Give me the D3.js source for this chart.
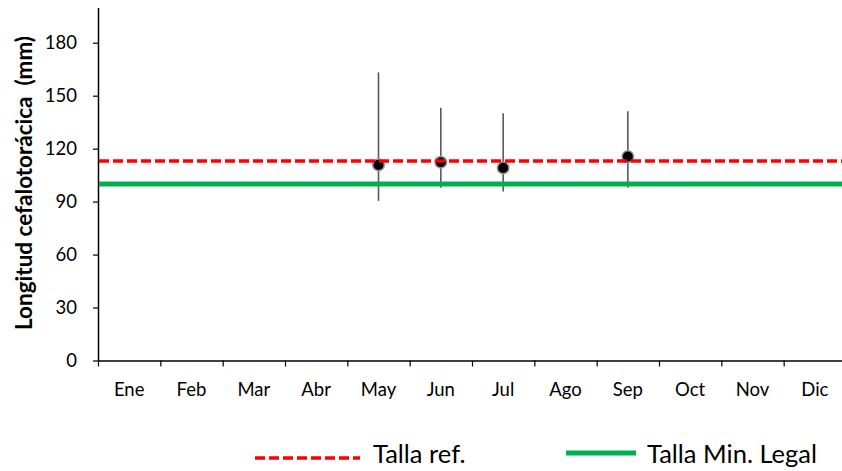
<!DOCTYPE html>
<html>
<head>
<meta charset="utf-8">
<script src="https://cdn.jsdelivr.net/npm/d3@7"></script>
<style>
  html, body { margin: 0; padding: 0; background: #fff; }
  svg { display: block; font-family: Lato, "Open Sans", sans-serif; }
</style>
</head>
<body>
<div id="chart"></div>
<script>
// ---- data ----
const months = ["Ene","Feb","Mar","Abr","May","Jun","Jul","Ago","Sep","Oct","Nov","Dic"];
const sampleMonths = ["May","Jun","Jul","Sep"];
const meanLength = [110.8, 112.3, 109.1, 115.5];
const maxLength  = [163.2, 143.2, 140.0, 141.2];
const minLength  = [90.4, 97.9, 95.7, 97.9];
const tallaRef = 113;
const tallaMinLegal = 100;
const yTicks = [0, 30, 60, 90, 120, 150, 180];
const yMax = 200;
const legendLabels = ["Talla ref.", "Talla Min. Legal"];

// ---- layout ----
const W = 842, H = 471;
const pLeft = 98, pRight = 846, pTop = 7.4, pBottom = 360.5;

const svg = d3.select("#chart").append("svg").attr("width", W).attr("height", H);

const x = d3.scaleBand().domain(months).range([pLeft, pRight]).padding(0);
const xEdge = d3.scaleLinear().domain([0, months.length]).range([pLeft, pRight]);
const y = d3.scaleLinear().domain([0, yMax]).range([pBottom, pTop]);

// y axis
const gy = svg.append("g").attr("transform", `translate(${pLeft},0)`)
  .call(d3.axisLeft(y).tickValues(yTicks).tickSize(5).tickPadding(16).tickSizeOuter(0));
gy.select(".domain").attr("stroke", "#000").attr("stroke-width", 1.5);
gy.selectAll(".tick line").attr("stroke", "#000").attr("stroke-width", 1.2);
gy.selectAll("text").attr("font-size", 18.5).attr("fill", "#000").attr("font-family", "Lato");

// x axis: boundary ticks
const gxe = svg.append("g").attr("transform", `translate(0,${pBottom})`)
  .call(d3.axisBottom(xEdge).tickValues(d3.range(months.length + 1)).tickFormat("").tickSize(6).tickSizeOuter(0));
gxe.select(".domain").attr("stroke", "#000").attr("stroke-width", 1.5);
gxe.selectAll(".tick line").attr("stroke", "#000").attr("stroke-width", 1.2);

// x axis labels
const gx = svg.append("g").attr("transform", `translate(0,${pBottom})`)
  .call(d3.axisBottom(x).tickSize(0).tickPadding(22));
gx.select(".domain").remove();
gx.selectAll("text").attr("font-size", 18.5).attr("fill", "#000").attr("font-family", "Lato");

// y label
svg.append("text")
  .attr("transform", `translate(32,${183}) rotate(-90)`)
  .attr("text-anchor", "middle")
  .attr("font-size", 22.5).attr("font-weight", "bold").attr("fill", "#000")
  .style("white-space", "pre")
  .text("Longitud cefalotorácica  (mm)");

// error bars
const pts = sampleMonths.map((m, i) => ({ m, v: meanLength[i], hi: maxLength[i], lo: minLength[i] }));
svg.append("g").selectAll("line").data(pts).join("line")
  .attr("x1", d => x(d.m) + x.bandwidth() / 2)
  .attr("x2", d => x(d.m) + x.bandwidth() / 2)
  .attr("y1", d => y(d.hi)).attr("y2", d => y(d.lo))
  .attr("stroke", "#595959").attr("stroke-width", 1.6);

// points
svg.append("g").selectAll("circle").data(pts).join("circle")
  .attr("cx", d => x(d.m) + x.bandwidth() / 2)
  .attr("cy", d => y(d.v))
  .attr("r", 5.8)
  .attr("fill", "#000").attr("stroke", "#9a9a9a").attr("stroke-width", 1.5);

// reference lines
svg.append("line")
  .attr("x1", pLeft + 1).attr("x2", pRight).attr("y1", y(tallaMinLegal)).attr("y2", y(tallaMinLegal))
  .attr("stroke", "#00b050").attr("stroke-width", 5);
svg.append("line")
  .attr("x1", pLeft + 1).attr("x2", pRight).attr("y1", y(tallaRef)).attr("y2", y(tallaRef))
  .attr("stroke", "#ff0000").attr("stroke-width", 3.6).attr("stroke-dasharray", "10,4");

// legend
const lg = svg.append("g");
lg.append("line").attr("x1", 255).attr("x2", 360).attr("y1", 458).attr("y2", 458)
  .attr("stroke", "#ff0000").attr("stroke-width", 3.6).attr("stroke-dasharray", "10,4");
lg.append("text").attr("x", 373).attr("y", 463).attr("font-size", 25.5).attr("fill", "#000")
  .text(legendLabels[0]);
lg.append("line").attr("x1", 566).attr("x2", 636).attr("y1", 453).attr("y2", 453)
  .attr("stroke", "#00b050").attr("stroke-width", 5);
lg.append("text").attr("x", 647).attr("y", 463).attr("font-size", 25.5).attr("fill", "#000")
  .text(legendLabels[1]);
</script>
</body>
</html>
